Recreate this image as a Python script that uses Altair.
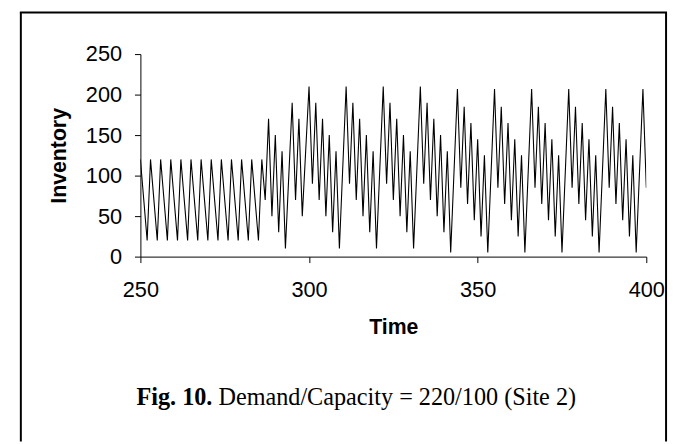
import altair as alt
import pandas as pd

# ---- data ----
time_steps = list(range(250, 401))
inventory = [
    # 250-286: regular sawtooth
    120, 70, 20, 120, 70, 20, 120, 70, 20, 120, 70, 20, 120, 70, 20, 120, 70, 20,
    120, 70, 20, 120, 70, 20, 120, 70, 20, 120, 70, 20, 120, 70, 20, 120, 70, 20, 120,
    # 287-299
    70, 170, 50, 150, 30, 130, 10, 100, 190, 70, 170, 50, 130,
    # 300-310
    210, 90, 190, 70, 170, 50, 150, 30, 130, 10, 110,
    # 311-321
    210, 90, 190, 70, 170, 50, 150, 30, 130, 10, 110,
    # 322-332
    210, 90, 190, 70, 170, 50, 150, 30, 130, 10, 110,
    # 333-343
    210, 90, 190, 70, 170, 50, 150, 30, 130, 5, 106,
    # 344-354
    207, 85, 185, 65, 165, 45, 145, 25, 125, 5, 106,
    # 355-365
    207, 85, 185, 65, 165, 45, 145, 25, 125, 5, 106,
    # 366-376
    207, 85, 185, 65, 165, 45, 145, 25, 125, 5, 106,
    # 377-387
    207, 85, 185, 65, 165, 45, 145, 25, 125, 5, 106,
    # 388-398
    207, 85, 185, 65, 165, 45, 145, 25, 125, 5, 106,
    # 399-400
    207, 85,
]
x_ticks = [250, 300, 350, 400]
y_ticks = [0, 50, 100, 150, 200, 250]
x_title = "Time"
y_title = "Inventory"
caption_bold = "Fig. 10."
caption_rest = "Demand/Capacity = 220/100 (Site 2)"

df = pd.DataFrame({"t": time_steps, "inv": inventory})
one = pd.DataFrame({"a": [0]})

W, H = 512, 205
SANS = "Liberation Sans"
SERIF = "Liberation Serif"

line = alt.Chart(df).mark_line(color="black", strokeWidth=1.1, clip=True).encode(
    x=alt.X(
        "t:Q",
        scale=alt.Scale(domain=[250, 400], nice=False, zero=False),
        axis=alt.Axis(
            values=x_ticks, tickSize=6, tickColor="black", domainColor="black",
            labelFont=SANS, labelFontSize=22, labelColor="black", labelPadding=17,
            labelFlush=False, labelOverlap=False, grid=False,
            title=x_title, titleFont=SANS, titleFontSize=21.5, titleFontWeight="bold",
            titleColor="black", titleX=W / 2, titleY=78, titleAlign="center",
            titleBaseline="alphabetic",
        ),
    ),
    y=alt.Y(
        "inv:Q",
        scale=alt.Scale(domain=[0, 250], nice=False),
        axis=alt.Axis(
            values=y_ticks, tickSize=6, tickColor="black", domainColor="black",
            labelFont=SANS, labelFontSize=22, labelColor="black", labelPadding=13,
            labelFlush=False, labelOverlap=False, grid=False,
            title=y_title, titleFont=SANS, titleFontSize=21.5, titleFontWeight="bold",
            titleColor="black", titleAngle=270, titleX=-82, titleY=H / 2,
            titleAlign="center", titleBaseline="middle",
        ),
    ),
)

frame_left = alt.Chart(one).mark_rule(color="black", strokeWidth=2).encode(
    x=alt.value(-121), y=alt.value(-42), y2=alt.value(392)
)
frame_right = alt.Chart(one).mark_rule(color="black", strokeWidth=2).encode(
    x=alt.value(532), y=alt.value(-42), y2=alt.value(392)
)
frame_top = alt.Chart(one).mark_rule(color="black", strokeWidth=2).encode(
    x=alt.value(-122), x2=alt.value(533), y=alt.value(-42)
)

cap1 = alt.Chart(one).mark_text(
    text=caption_bold, font=SERIF, fontSize=24.5, fontWeight="bold", color="black",
    align="left", baseline="alphabetic",
).encode(x=alt.value(-4), y=alt.value(355))
cap2 = alt.Chart(one).mark_text(
    text=caption_rest, font=SERIF, fontSize=24.5, color="black",
    align="left", baseline="alphabetic",
).encode(x=alt.value(79), y=alt.value(355))

chart = alt.layer(line, frame_left, frame_right, frame_top, cap1, cap2).properties(
    width=W, height=H,
    autosize=alt.AutoSizeParams(type="none"),
    padding={"left": 134, "top": 44, "right": 25, "bottom": 187},
    background="white",
).configure_view(stroke=None)

chart.save("out.html", embed_options={"renderer": "svg", "actions": False})
